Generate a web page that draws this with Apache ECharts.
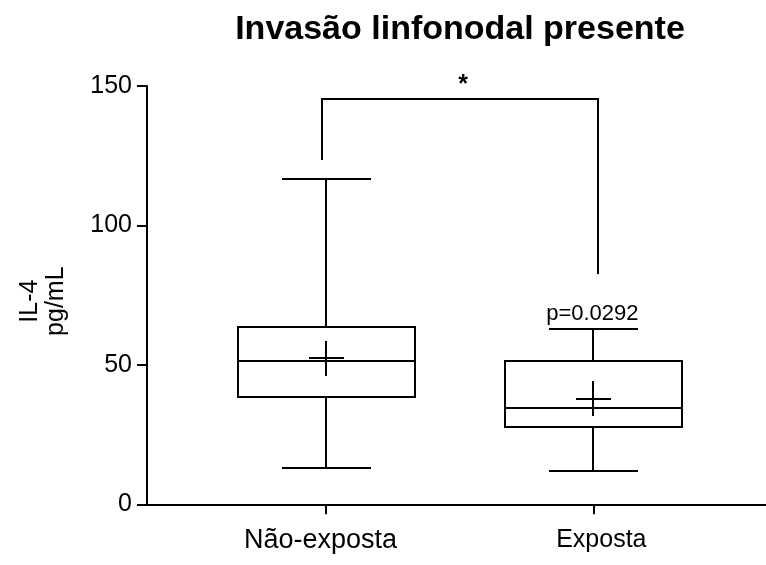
<!DOCTYPE html>
<html>
<head>
<meta charset="utf-8">
<script src="https://cdn.jsdelivr.net/npm/echarts@6/dist/echarts.min.js"></script>
<style>
  html, body { margin: 0; padding: 0; background: #fff; }
  #chart { width: 766px; height: 565px; }
</style>
</head>
<body>
<div id="chart"></div>
<script>
// ---- data ----
const titleText = 'Invasão linfonodal presente';
const categories = ['Não-exposta', 'Exposta'];
const whiskerLow = [12.9, 11.9];
const q1 = [38.6, 27.7];
const medians = [51.5, 34.4];
const q3 = [63.5, 51.5];
const whiskerHigh = [116.8, 62.8];
const means = [52.4, 37.9];
const yTicks = [0, 50, 100, 150];
const yAxisName = 'IL-4\npg/mL';
// bracket: [left leg end, bar level, right leg end]
const bracketLevels = [123.5, 145.3, 82.5];
const sigLabel = '*';
const pLabel = 'p=0.0292';

// ---- styles ----
const FONT = '"Liberation Sans", Arial, Helvetica, sans-serif';
const INK = '#000';
const LW = 2;

const boxData = categories.map((c, i) => [i, whiskerLow[i], q1[i], medians[i], q3[i], whiskerHigh[i], means[i]]);

const R = Math.round;
function line(x1, y1, x2, y2) {
  return { type: 'line', shape: { x1: R(x1), y1: R(y1), x2: R(x2), y2: R(y2) },
           style: { stroke: INK, lineWidth: LW, fill: null } };
}

function renderBox(params, api) {
  const i = api.value(0);
  const c = api.coord([i, 0])[0];
  const band = api.size([1, 0])[0];
  const halfBox = band * 0.331;
  const halfCap = band * 0.1665;
  const halfCross = 17.5;
  const yMin = api.coord([i, api.value(1)])[1];
  const yQ1 = api.coord([i, api.value(2)])[1];
  const yMed = api.coord([i, api.value(3)])[1];
  const yQ3 = api.coord([i, api.value(4)])[1];
  const yMax = api.coord([i, api.value(5)])[1];
  const yMean = api.coord([i, api.value(6)])[1];
  const bx0 = R(c - halfBox), bx1 = R(c + halfBox), by0 = R(yQ3), by1 = R(yQ1);
  return {
    type: 'group',
    children: [
      line(c, yMin, c, yQ1),
      line(c, yQ3, c, yMax),
      line(c - halfCap, yMin, c + halfCap, yMin),
      line(c - halfCap, yMax, c + halfCap, yMax),
      { type: 'rect', shape: { x: bx0, y: by0, width: bx1 - bx0, height: by1 - by0 },
        style: { stroke: INK, lineWidth: LW, fill: null } },
      line(c - halfBox, yMed, c + halfBox, yMed),
      line(c - halfCross, yMean, c + halfCross, yMean),
      line(c, yMean - halfCross, c, yMean + halfCross)
    ]
  };
}

function renderAnnot(params, api) {
  const x0 = R(api.coord([0, 0])[0] - 4.3);
  const x1 = R(api.coord([1, 0])[0] + 5);
  const yL = R(api.coord([0, api.value(0)])[1]);
  const yTop = R(api.coord([0, api.value(1)])[1]);
  const yR = R(api.coord([0, api.value(2)])[1]);
  const cap1 = api.coord([1, whiskerHigh[1]]);
  return {
    type: 'group',
    children: [
      { type: 'polyline', shape: { points: [[x0, yL], [x0, yTop], [x1, yTop], [x1, yR]] },
        style: { stroke: INK, lineWidth: LW, fill: null } },
      { type: 'text', x: (x0 + x1) / 2 + 3, y: yTop - 14,
        style: { text: sigLabel, font: 'bold 25px ' + FONT, fill: INK, align: 'center', verticalAlign: 'middle' } },
      { type: 'text', x: cap1[0] - 1, y: cap1[1] - 15.5,
        style: { text: pLabel, font: '22px ' + FONT, fill: INK, align: 'center', verticalAlign: 'middle' } }
    ]
  };
}

const chart = echarts.init(document.getElementById('chart'), null, { renderer: 'canvas' });
chart.setOption({
  animation: false,
  backgroundColor: '#fff',
  graphic: [{
    type: 'text', x: 460, y: 30,
    style: { text: titleText, font: 'bold 34px ' + FONT, fill: INK, align: 'center', verticalAlign: 'middle' }
  }],
  grid: { left: 147, right: 0, top: 86, bottom: 60.7, containLabel: false, outerBoundsMode: 'none' },
  xAxis: {
    type: 'value',
    min: -0.6698,
    max: 1.646,
    splitLine: { show: false },
    axisLine: { show: true, onZero: false, lineStyle: { color: INK, width: LW } },
    axisTick: { show: true, customValues: [0, 1], length: 10, lineStyle: { color: INK, width: LW } },
    axisLabel: {
      show: true,
      customValues: [0, 1],
      margin: 21,
      formatter: function (v) {
        const i = Math.round(v);
        return i === 0 ? '{a|' + categories[0] + '}' : '{b|' + categories[1] + '}';
      },
      rich: {
        a: { fontFamily: FONT, fontSize: 27, color: INK, lineHeight: 30, padding: [0, 11, 0, 0] },
        b: { fontFamily: FONT, fontSize: 25, color: INK, lineHeight: 30, padding: [0, 0, 0, 16] }
      }
    }
  },
  yAxis: {
    type: 'value',
    min: yTicks[0],
    max: yTicks[yTicks.length - 1],
    interval: yTicks[1] - yTicks[0],
    name: yAxisName,
    nameLocation: 'middle',
    nameGap: 78,
    nameRotate: 90,
    nameTextStyle: { fontFamily: FONT, fontSize: 25, color: INK, lineHeight: 26, padding: [0, 12, 0, 0] },
    splitLine: { show: false },
    axisLine: { show: true, onZero: false, lineStyle: { color: INK, width: LW } },
    axisTick: { show: true, length: 10, lineStyle: { color: INK, width: LW } },
    axisLabel: { margin: 15, fontFamily: FONT, fontSize: 25, color: INK }
  },
  series: [
    {
      type: 'custom',
      name: 'box',
      renderItem: renderBox,
      data: boxData,
      encode: { x: 0, y: [1, 2, 3, 4, 5] },
      clip: false,
      z: 3
    },
    {
      type: 'custom',
      name: 'annot',
      renderItem: renderAnnot,
      data: [bracketLevels],
      encode: { y: [0, 1, 2] },
      clip: false,
      z: 4
    }
  ]
});
</script>
</body>
</html>
